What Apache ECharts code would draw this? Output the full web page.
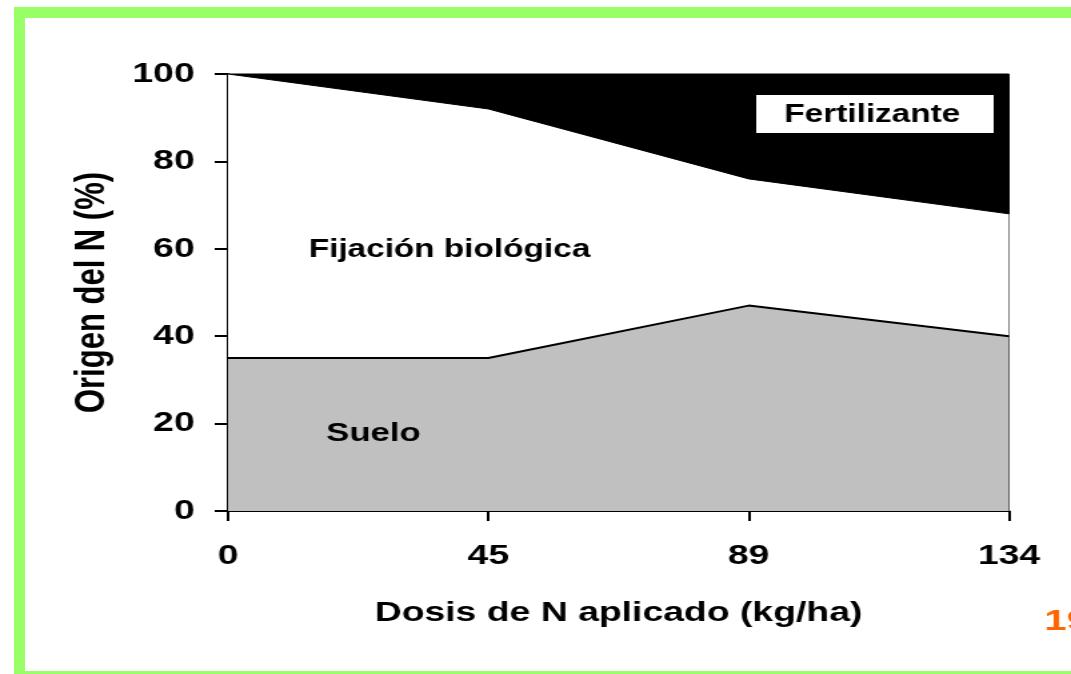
<!DOCTYPE html>
<html>
<head>
<meta charset="utf-8">
<script src="https://cdn.jsdelivr.net/npm/echarts@6/dist/echarts.min.js"></script>
<style>
  html, body { margin: 0; padding: 0; width: 1071px; height: 674px; overflow: hidden; background: #fff; }
  /* marco verde de la diapositiva */
  #frame {
    position: absolute; left: 14px; top: 7px; width: 1200px; height: 653px;
    border-top: 11px solid #99ff66; border-left: 11px solid #99ff66; border-bottom: 11px solid #99ff66;
  }
  /* la diapositiva original está estirada en horizontal (4:3 -> 16:9) */
  #main {
    position: absolute; left: 0; top: 0; width: 803px; height: 674px;
    transform: scaleX(1.33375); transform-origin: 0 0;
  }
</style>
</head>
<body>
<div id="frame"></div>
<div id="main"></div>
<script>
// datos
var dosis = ['0', '45', '89', '134'];
var suelo = [35, 35, 47, 40];
var fijacion = [65, 57, 29, 28];
var fertilizante = [0, 8, 24, 32];
var yTicks = [0, 20, 40, 60, 80, 100];

var font = 'Liberation Sans, Arial, sans-serif';
var chart = echarts.init(document.getElementById('main'));

chart.setOption({
  animation: false,
  grid: {
    left: 171, right: 46.5, top: 74, bottom: 163,
    show: true, borderColor: '#000', borderWidth: 1
  },
  xAxis: {
    type: 'category',
    data: dosis,
    boundaryGap: false,
    name: 'Dosis de N aplicado (kg/ha)',
    nameLocation: 'middle',
    nameGap: 88,
    nameTextStyle: { fontFamily: font, fontWeight: 'bold', fontSize: 28, color: '#000' },
    axisLine: { lineStyle: { color: '#000', width: 2 } },
    axisTick: { alignWithLabel: true, length: 10, lineStyle: { color: '#000', width: 2 } },
    axisLabel: { margin: 31, fontFamily: font, fontWeight: 'bold', fontSize: 28, color: '#000' }
  },
  yAxis: {
    type: 'value',
    min: yTicks[0],
    max: yTicks[yTicks.length - 1],
    interval: 20,
    name: 'Origen del N (%)',
    nameLocation: 'middle',
    nameGap: 86,
    nameTextStyle: { fontFamily: font, fontWeight: 'bold', fontSize: 31, color: '#000' },
    axisLine: { show: true, lineStyle: { color: '#000', width: 2 } },
    axisTick: { show: true, length: 10, lineStyle: { color: '#000', width: 2 } },
    axisLabel: { margin: 25, fontFamily: font, fontWeight: 'bold', fontSize: 28, color: '#000' },
    splitLine: { show: false }
  },
  series: [
    {
      name: 'Suelo', type: 'line', stack: 'n', data: suelo,
      symbol: 'none',
      lineStyle: { color: '#000', width: 2 },
      areaStyle: { color: '#c0c0c0', opacity: 1 }
    },
    {
      name: 'Fijación biológica', type: 'line', stack: 'n', data: fijacion,
      symbol: 'none',
      lineStyle: { color: '#000', width: 1 },
      areaStyle: { color: '#fff', opacity: 1 }
    },
    {
      name: 'Fertilizante', type: 'line', stack: 'n', data: fertilizante,
      symbol: 'none',
      lineStyle: { width: 0 },
      areaStyle: { color: '#000', opacity: 1 }
    }
  ],
  graphic: [
    { type: 'rect', left: 567, top: 95, shape: { width: 178, height: 38 }, style: { fill: '#fff' }, z: 100 },
    { type: 'text', x: 654, y: 115, z: 101,
      style: { text: 'Fertilizante', fontFamily: font, fontWeight: 'bold', fontSize: 25, fill: '#000', align: 'center', verticalAlign: 'middle' } },
    { type: 'text', x: 337, y: 250, z: 101,
      style: { text: 'Fijación biológica', fontFamily: font, fontWeight: 'bold', fontSize: 25, fill: '#000', align: 'center', verticalAlign: 'middle' } },
    { type: 'text', x: 280, y: 434, z: 101,
      style: { text: 'Suelo', fontFamily: font, fontWeight: 'bold', fontSize: 26, fill: '#000', align: 'center', verticalAlign: 'middle' } },
    { type: 'text', x: 783, y: 622, z: 101,
      style: { text: '19', fontFamily: font, fontWeight: 'bold', fontSize: 30, fill: '#ff6600', align: 'left', verticalAlign: 'middle' } }
  ]
});
</script>
</body>
</html>
